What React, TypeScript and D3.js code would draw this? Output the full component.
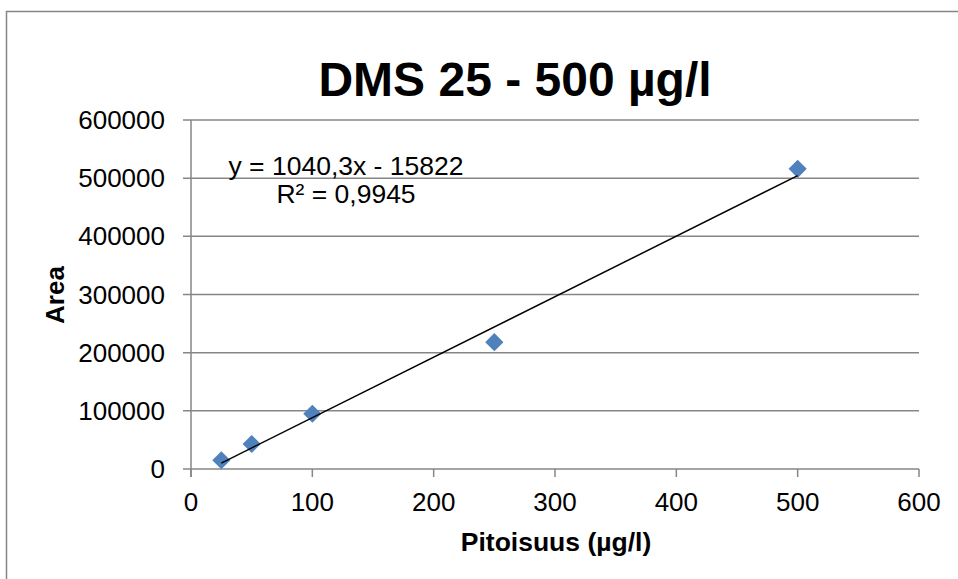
import React from "react";
import * as d3 from "d3";

// Calibration data: DMS concentration (µg/l) vs. peak area
const concentrations = [25, 50, 100, 250, 500];
const areas = [15000, 43000, 95000, 218000, 516000];

// Linear trendline reported for the series
const slope = 1040.3;
const intercept = -15822;
const rSquared = 0.9945;

const xTicks = [0, 100, 200, 300, 400, 500, 600];
const yTicks = [0, 100000, 200000, 300000, 400000, 500000, 600000];

const W = 958;
const H = 579;
const FONT = "Arial, 'Liberation Sans', Helvetica, sans-serif";
const GRID = "#868686";
const MARKER = "#4F81BD";

const fmtComma = (v: number, digits: number) =>
  v.toFixed(digits).replace(".", ",");

export default function App() {
  const x = d3.scaleLinear().domain([0, 600]).range([191, 919]);
  const y = d3.scaleLinear().domain([0, 600000]).range([469, 120]);

  const diamond = d3.symbol().type(d3.symbolSquare).size(165)();

  const trend = d3
    .line<number>()
    .x((d) => x(d))
    .y((d) => y(slope * d + intercept));
  const trendX = [d3.min(concentrations)!, d3.max(concentrations)!];

  const eqText = `y = ${fmtComma(slope, 1)}x - ${Math.abs(intercept)}`;
  const r2Text = `R² = ${fmtComma(rSquared, 4)}`;

  return (
    <svg
      width={W}
      height={H}
      style={{ position: "absolute", left: 0, top: 0, background: "#fff" }}
      fontFamily={FONT}
    >
      {/* chart frame */}
      <rect x={6.5} y={11.5} width={1000} height={700} fill="#fff" stroke={GRID} strokeWidth={1.5} />

      {/* title */}
      <text x={515} y={96} textAnchor="middle" fontSize={48} fontWeight="bold" fill="#000">
        DMS 25 - 500 µg/l
      </text>

      {/* horizontal gridlines with outside ticks */}
      {yTicks.map((t) => (
        <line
          key={`g${t}`}
          x1={183}
          x2={x(600)}
          y1={y(t)}
          y2={y(t)}
          stroke={GRID}
          strokeWidth={1.5}
        />
      ))}

      {/* y axis line */}
      <line x1={x(0)} x2={x(0)} y1={y(600000)} y2={y(0) + 8} stroke={GRID} strokeWidth={1.5} />

      {/* x axis ticks */}
      {xTicks.map((t) => (
        <line key={`xt${t}`} x1={x(t)} x2={x(t)} y1={y(0)} y2={y(0) + 8} stroke={GRID} strokeWidth={1.5} />
      ))}

      {/* y tick labels */}
      {yTicks.map((t) => (
        <text key={`yl${t}`} x={165} y={y(t) + 9} textAnchor="end" fontSize={26} fill="#000">
          {t}
        </text>
      ))}

      {/* x tick labels */}
      {xTicks.map((t) => (
        <text key={`xl${t}`} x={x(t)} y={511} textAnchor="middle" fontSize={26} fill="#000">
          {t}
        </text>
      ))}

      {/* axis titles */}
      <text x={556} y={551} textAnchor="middle" fontSize={26.5} fontWeight="bold" fill="#000">
        Pitoisuus (µg/l)
      </text>
      <text
        transform={`translate(64,295) rotate(-90)`}
        textAnchor="middle"
        fontSize={26}
        fontWeight="bold"
        fill="#000"
      >
        Area
      </text>

      {/* markers */}
      {concentrations.map((c, i) => (
        <path
          key={`m${c}`}
          d={diamond!}
          transform={`translate(${x(c)},${y(areas[i])}) rotate(45)`}
          fill={MARKER}
        />
      ))}

      {/* linear trendline */}
      <path d={trend(trendX)!} fill="none" stroke="#000" strokeWidth={1.5} />

      {/* trendline equation */}
      <text x={346} y={175} textAnchor="middle" fontSize={26.5} fill="#000">
        {eqText}
      </text>
      <text x={346} y={203} textAnchor="middle" fontSize={26.5} fill="#000">
        {r2Text}
      </text>
    </svg>
  );
}
